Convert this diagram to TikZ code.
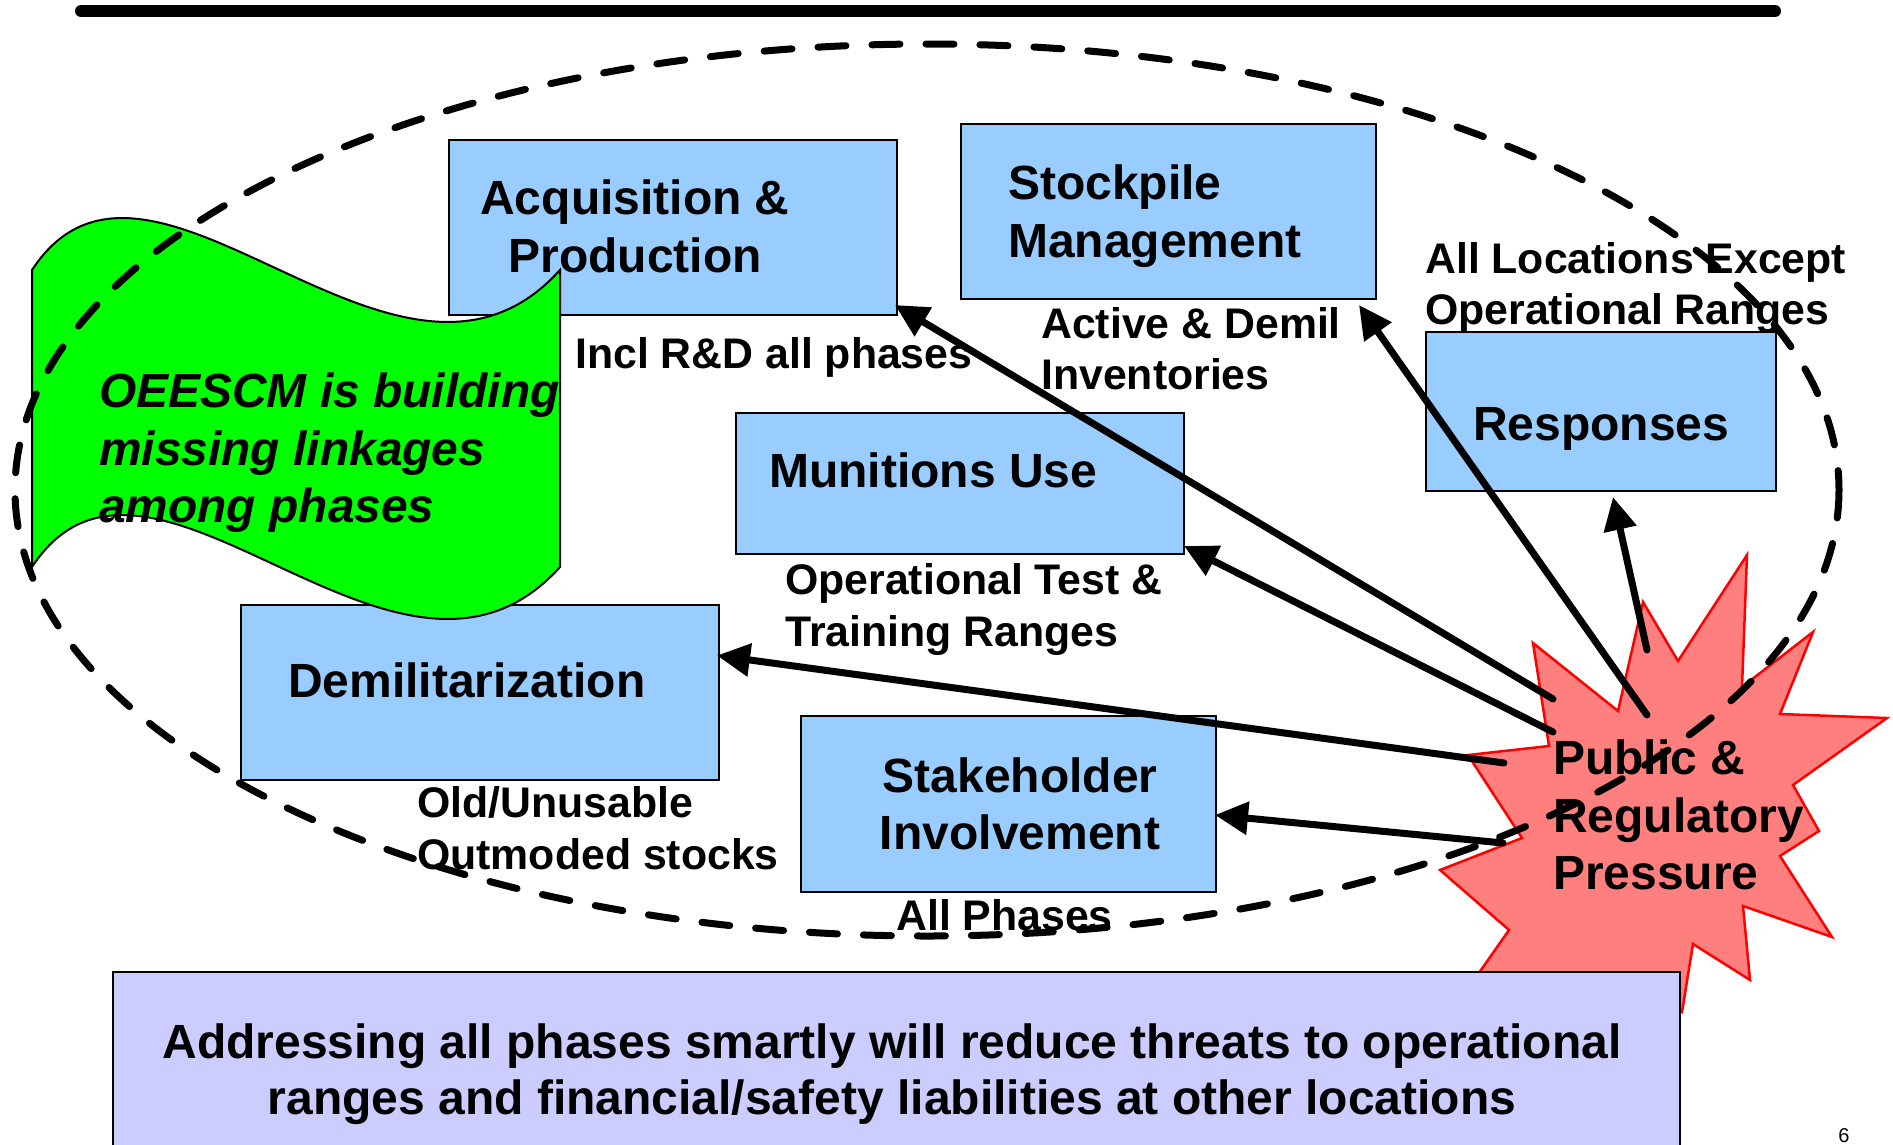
\documentclass[tikz,border=0pt]{standalone}
\usepackage{fontspec}
\setmainfont{Liberation Sans}
\usetikzlibrary{arrows.meta}
\definecolor{boxblue}{HTML}{99CCFF}
\definecolor{lav}{HTML}{CCCCFF}
\definecolor{flaggreen}{HTML}{00FF00}
\definecolor{burstred}{HTML}{FF7F7F}
\begin{document}
\begin{tikzpicture}[x=1pt,y=-1pt,
  box/.style={draw=black, line width=2pt, fill=boxblue, rectangle, inner sep=0pt, anchor=north west},
  ttl/.style={font=\bfseries\fontsize{48}{57}\selectfont, inner sep=0pt, anchor=base west},
  ttlc/.style={ttl, anchor=base},
  lab/.style={font=\bfseries\fontsize{42.8}{51}\selectfont, inner sep=0pt, anchor=base west},
  flagtxt/.style={font=\bfseries\itshape\fontsize{47.9}{57}\selectfont, inner sep=0pt, anchor=base west},
  flagstyle/.style={draw=black, line width=2pt, fill=flaggreen},
  burststyle/.style={draw=red, line width=2.5pt, fill=burstred, line join=miter},
  ell/.style={draw=black, line width=7pt, line cap=round, dash pattern=on 28pt off 26pt},
  arr/.style={draw=black, line width=7pt, line cap=round, -{Triangle[length=33pt,width=32pt]}}
]
\useasboundingbox (0,0) rectangle (1893,1144);
\fill[white] (0,0) rectangle (1893,1144);

% boxes
\node[box, minimum width=448pt, minimum height=175pt] (acq) at (448,139) {};
\node[box, minimum width=415pt, minimum height=175pt] (stock) at (960,123) {};
\node[box, minimum width=350pt, minimum height=159pt] (resp) at (1425,331) {};
\node[box, minimum width=448pt, minimum height=141pt] (mun) at (735,412) {};
\node[box, minimum width=478pt, minimum height=175pt] (demil) at (240,604) {};
\node[box, minimum width=415pt, minimum height=176pt] (stake) at (800,715) {};

% box titles
\node[ttlc] (acq1) at (635,214) {Acquisition \&};
\node[ttlc] (acq2) at (635,272) {Production};
\node[ttl] (st1) at (1008,199) {Stockpile};
\node[ttl] (st2) at (1008,257) {Management};
\node[ttl] (re1) at (1473,440) {Responses};
\node[ttl] (mu1) at (769,487) {Munitions Use};
\node[ttl] (de1) at (288,697) {Demilitarization};
\node[ttlc] (sk1) at (1020,792) {Stakeholder};
\node[ttlc] (sk2) at (1020,849) {Involvement};

% labels
\node[lab] (l1) at (575,368) {Incl R\&D all phases};
\node[lab] (l2a) at (1041,338) {Active \& Demil};
\node[lab] (l2b) at (1041,389) {Inventories};
\node[lab] (l3a) at (1425,273) {All Locations Except};
\node[lab] (l3b) at (1425,324) {Operational Ranges};
\node[lab] (l4a) at (785,594) {Operational Test \&};
\node[lab] (l4b) at (785,646) {Training Ranges};
\node[lab] (l5a) at (417,817) {Old/Unusable};
\node[lab] (l5b) at (417,869) {Outmoded stocks};
\node[lab] (l6) at (896,930) {All Phases};

% flag
\draw[flagstyle] (32,270) .. controls (150,90) and (398,450) .. (560,270)
  -- (560,567) .. controls (398,747) and (150,387) .. (32,567) -- cycle;
\node[flagtxt] (f1) at (99,407) {OEESCM is building};
\node[flagtxt] (f2) at (99,465) {missing linkages};
\node[flagtxt] (f3) at (99,522) {among phases};

% starburst
\draw[burststyle] (1747,555) -- (1678,661) -- (1643,602) -- (1618,711) -- (1533,643)
  -- (1549,746) -- (1468,755) -- (1522,838) -- (1440,870) -- (1509,930)
  -- (1460,1000) -- (1600,975) -- (1682,1012) -- (1693,944) -- (1750,980)
  -- (1743,906) -- (1832,937) -- (1780,856) -- (1819,831) -- (1793,785)
  -- (1887,718) -- (1780,714) -- (1813,632) -- (1742,687) -- cycle;
\node[ttl] (pub1) at (1553,774) {Public \&};
\node[ttl] (pub2) at (1553,832) {Regulatory};
\node[ttl] (pub3) at (1553,889) {Pressure};

% dashed ellipse
\draw[ell] (927,490) ellipse [x radius=912, y radius=446];

% arrows
\coordinate (s1) at (1553,699);
\coordinate (s2) at (1647,715);
\coordinate (s3) at (1647,650);
\coordinate (s4) at (1553,732);
\coordinate (s5) at (1504,763);
\coordinate (s6) at (1503,843);
\draw[arr] (s1) -- ([shift={(-3,-11)}]acq.south east);
\draw[arr] (s2) -- ([shift={(-18,5)}]stock.south east);
\draw[arr] (s3) -- ([shift={(12,5)}]resp.south);
\draw[arr] (s4) -- ([shift={(-1,-9)}]mun.south east);
\draw[arr] (s5) -- ([shift={(-3,-37)}]demil.east);
\draw[arr] (s6) -- ([shift={(-2,11)}]stake.east);

% bottom box
\node[box, fill=lav, minimum width=1567pt, minimum height=200pt] (bot) at (112,971) {};
\node[ttlc] (b1) at (892,1058) {Addressing all phases smartly will reduce threats to operational};
\node[ttlc] (b2) at (892,1114) {ranges and financial/safety liabilities at other locations};

% top bar
\coordinate (bar1) at (81,11);
\coordinate (bar2) at (1775,11);
\draw[line width=12pt, line cap=round] (bar1) -- (bar2);

% page number
\node[font=\fontsize{20}{24}\selectfont, inner sep=0pt, anchor=base] (pg) at (1844,1142) {6};
\end{tikzpicture}
\end{document}
